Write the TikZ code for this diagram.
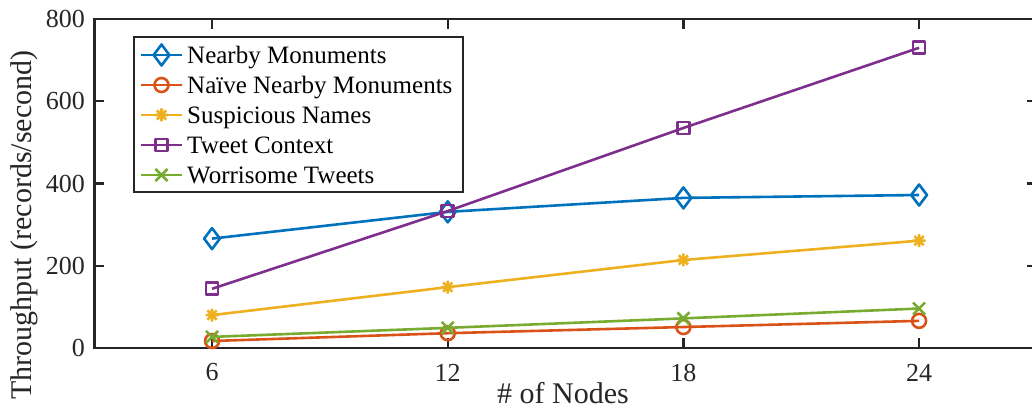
\documentclass[tikz,border=0pt]{standalone}
\usepackage{fontspec}
\setmainfont{Liberation Serif}
\usetikzlibrary{plotmarks}

\definecolor{axgray}{rgb}{0.15,0.15,0.15}
\definecolor{cblue}{rgb}{0,0.447,0.741}
\definecolor{corange}{rgb}{0.85,0.325,0.098}
\definecolor{cyellow}{rgb}{0.929,0.694,0.125}
\definecolor{cpurple}{rgb}{0.494,0.184,0.556}
\definecolor{cgreen}{rgb}{0.466,0.674,0.188}

% eight-spoked star marker (plus and cross together)
\pgfdeclareplotmark{mstar}{%
  \pgfpathmoveto{\pgfqpoint{-\pgfplotmarksize}{0pt}}%
  \pgfpathlineto{\pgfqpoint{\pgfplotmarksize}{0pt}}%
  \pgfpathmoveto{\pgfqpoint{0pt}{-\pgfplotmarksize}}%
  \pgfpathlineto{\pgfqpoint{0pt}{\pgfplotmarksize}}%
  \pgfpathmoveto{\pgfqpoint{-.7071\pgfplotmarksize}{-.7071\pgfplotmarksize}}%
  \pgfpathlineto{\pgfqpoint{.7071\pgfplotmarksize}{.7071\pgfplotmarksize}}%
  \pgfpathmoveto{\pgfqpoint{-.7071\pgfplotmarksize}{.7071\pgfplotmarksize}}%
  \pgfpathlineto{\pgfqpoint{.7071\pgfplotmarksize}{-.7071\pgfplotmarksize}}%
  \pgfusepathqstroke}

\tikzset{
  axisline/.style={draw=axgray, line width=2.8pt},
  tickline/.style={draw=axgray, line width=2.4pt},
  ticklabel/.style={text=axgray, inner sep=0pt, font=\fontsize{26}{26}\selectfont},
  axislabel/.style={text=axgray, inner sep=0pt, font=\fontsize{30}{30}\selectfont},
  legendtext/.style={text=black, inner sep=0pt, anchor=base west, font=\fontsize{25}{25}\selectfont},
  series/.style={line width=2.6pt, line join=round, mark options={solid}},
  nearby/.style={series, draw=cblue, mark=diamond, mark size=10.5pt},
  naive/.style={series, draw=corange, mark=o, mark size=7pt},
  suspicious/.style={series, draw=cyellow, mark=mstar, mark size=6.5pt},
  tweetctx/.style={series, draw=cpurple, mark=square, mark size=6pt},
  worrisome/.style={series, draw=cgreen, mark=x, mark size=8.5pt},
}

\begin{document}
\begin{tikzpicture}[x=1pt, y=1pt]
\useasboundingbox (0,0) rectangle (1032,410);
\clip (0,0) rectangle (1032,410);

% axes frame
\draw[axisline] (94.2,62) rectangle (1037,391);

% x ticks and labels
\foreach \n/\px in {6/212.0, 12/447.7, 18/683.4, 24/919.1} {
  \draw[tickline] (\px,62) -- (\px,72);
  \draw[tickline] (\px,391) -- (\px,381);
  \node[ticklabel] (xt\n) at (\px,37.5) {\n};
}

% y ticks and labels
\foreach \v in {0,200,400,600,800} {
  \pgfmathsetmacro{\py}{62+\v*0.41125}
  \draw[tickline] (94.2,\py) -- (104.2,\py);
  \draw[tickline] (1037,\py) -- (1027,\py);
  \node[ticklabel, anchor=east] (yt\v) at (85,\py) {\v};
}

% axis titles
\node[axislabel, anchor=base] (xlab) at (563,6.6) {\# of Nodes};
\node[axislabel, anchor=base, rotate=90] (ylab) at (31.6,185) {Throughput (records/second)};

% data series (x = nodes - 3, y = records/second)
\begin{scope}[shift={(94.2pt,62pt)}, x=39.28pt, y=0.41125pt]
  \draw[nearby]     plot coordinates {(3,266) (9,331) (15,365) (21,372)};
  \draw[naive]      plot coordinates {(3,17) (9,36) (15,51) (21,66)};
  \draw[suspicious] plot coordinates {(3,80) (9,148) (15,214) (21,261)};
  \draw[tweetctx]   plot coordinates {(3,144) (9,333) (15,535) (21,730)};
  \draw[worrisome]  plot coordinates {(3,27) (9,49) (15,72) (21,96)};
\end{scope}

% legend
\draw[draw=axgray, line width=2.4pt, fill=white] (134,373) rectangle (463,218);
\foreach \sty/\yy/\lab [count=\i] in {
    nearby/355/{Nearby Monuments},
    naive/325/{Naïve Nearby Monuments},
    suspicious/295/{Suspicious Names},
    tweetctx/265/{Tweet Context},
    worrisome/235/{Worrisome Tweets}} {
  \draw[\sty, mark indices={2}] plot coordinates {(141,\yy) (161.5,\yy) (182,\yy)};
  \node[legendtext] (leg\i) at (187,\yy-8.7) {\lab};
}
\end{tikzpicture}
\end{document}
